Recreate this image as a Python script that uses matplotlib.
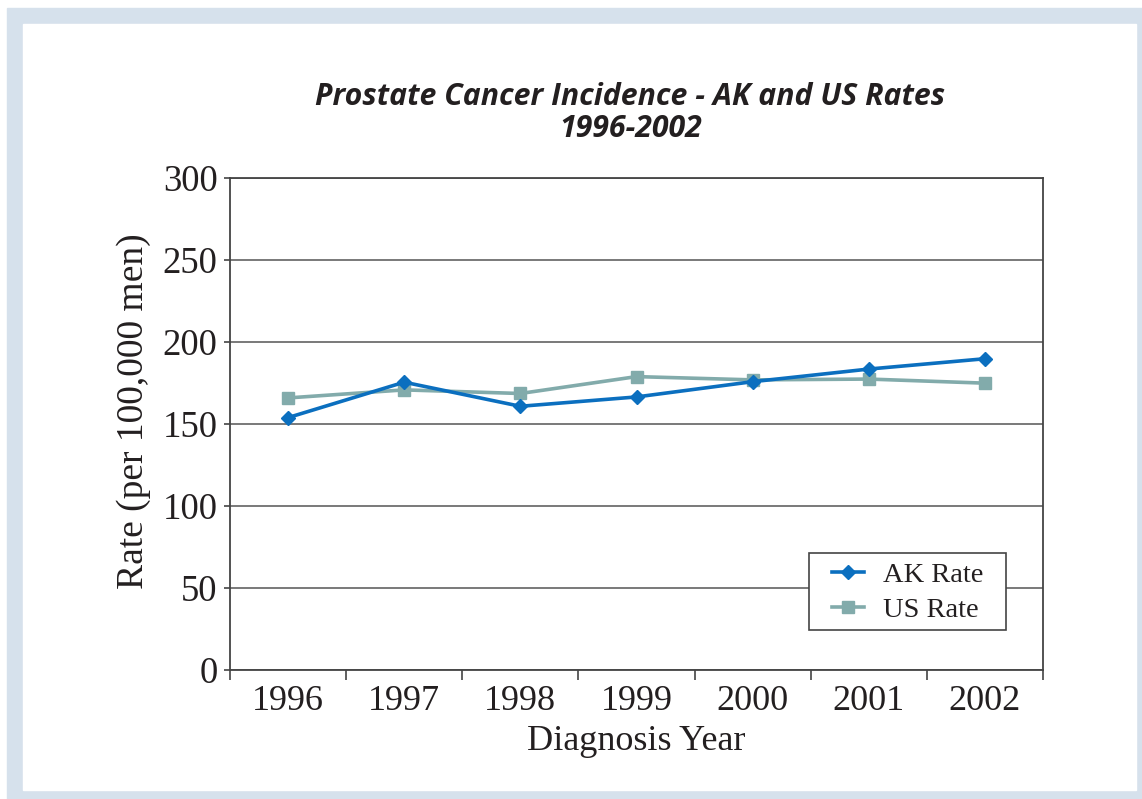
import matplotlib.pyplot as plt
import matplotlib.patches as mpatches

# Prostate cancer incidence per 100,000 men
years = ['1996', '1997', '1998', '1999', '2000', '2001', '2002']
ak_rate = [153.9, 175.5, 160.8, 166.5, 175.8, 183.5, 189.8]
us_rate = [165.9, 170.8, 168.6, 178.9, 176.9, 177.4, 174.9]
y_ticks = [0, 50, 100, 150, 200, 250, 300]

serif = ['Liberation Serif', 'DejaVu Serif']

fig = plt.figure(figsize=(11.42, 7.99), dpi=100)
fig.patch.set_facecolor('white')

# light blue page border
W, H = 1142, 799
fig.patches.append(mpatches.Rectangle((7 / W, 0), 1 - 7 / W, 1 - 8 / H,
                                      transform=fig.transFigure, color='#d6e1ec', zorder=-10))
fig.patches.append(mpatches.Rectangle((23 / W, 9 / H), (1136 - 23) / W, (790 - 24) / H,
                                      transform=fig.transFigure, color='white', zorder=-9))

ax = fig.add_axes([230 / W, 1 - 670 / H, (1043 - 230) / W, (670 - 178) / H])
ax.set_facecolor('none')
ax.set_zorder(5)

x = list(range(len(years)))
ax.plot(x, ak_rate, color='#0b6fbf', lw=2.6, marker='D', ms=7, label='AK Rate', zorder=3)
ax.plot(x, us_rate, color='#82abab', lw=2.6, marker='s', ms=8, label='US Rate', zorder=2)

ax.set_xlim(-0.5, len(years) - 0.5)
ax.set_ylim(0, 300)
ax.set_yticks(y_ticks)
ax.yaxis.grid(True, color='#6e6e6e', lw=1.3)
ax.set_axisbelow(True)

# category ticks sit between the years
ax.set_xticks([i - 0.5 for i in range(len(years) + 1)])
ax.set_xticklabels([])
ax.set_xticks(x, minor=True)
ax.set_xticklabels(years, minor=True, fontsize=26, family=serif, color='#231f20')
ax.tick_params(axis='x', which='major', direction='out', length=7, width=1.2, color='#444444')
ax.tick_params(axis='x', which='minor', length=0, pad=11)
ax.tick_params(axis='y', direction='out', length=4, width=1.2, color='#444444', pad=5)
for lbl in ax.get_yticklabels():
    lbl.set_family(serif)
    lbl.set_fontsize(26.5)
    lbl.set_color('#231f20')

for s in ax.spines.values():
    s.set_color('#444444')
    s.set_linewidth(1.3)

ax.set_xlabel('Diagnosis Year', fontsize=26, family=serif, color='#231f20', labelpad=5)
ax.set_ylabel('Rate (per 100,000 men)', fontsize=27, family=serif, color='#231f20')
ax.yaxis.set_label_coords(-0.097, 0.527)

fig.text(0.552, 1 - 113 / H, 'Prostate Cancer Incidence - AK and US Rates\n1996-2002',
         ha='center', va='center', fontsize=21.8, fontweight='bold', style='italic',
         family=['Open Sans', 'DejaVu Sans'], color='#231f20', linespacing=1.12)

# legend box drawn separately so the padding can be wider than tall
box = mpatches.Rectangle((0.712, 0.081), 0.242, 0.157, transform=ax.transAxes,
                         facecolor='white', edgecolor='#444444', lw=1.2, zorder=6)
ax.add_patch(box)
leg = ax.legend(loc='center left', bbox_to_anchor=(0.740, 0.157), borderaxespad=0,
                prop={'family': serif, 'size': 20.5}, frameon=False,
                handlelength=1.15, borderpad=0, labelspacing=0.33, handletextpad=0.65)
leg.set_zorder(7)
for t in leg.get_texts():
    t.set_color('#231f20')

fig.savefig('out.png', dpi=100)
